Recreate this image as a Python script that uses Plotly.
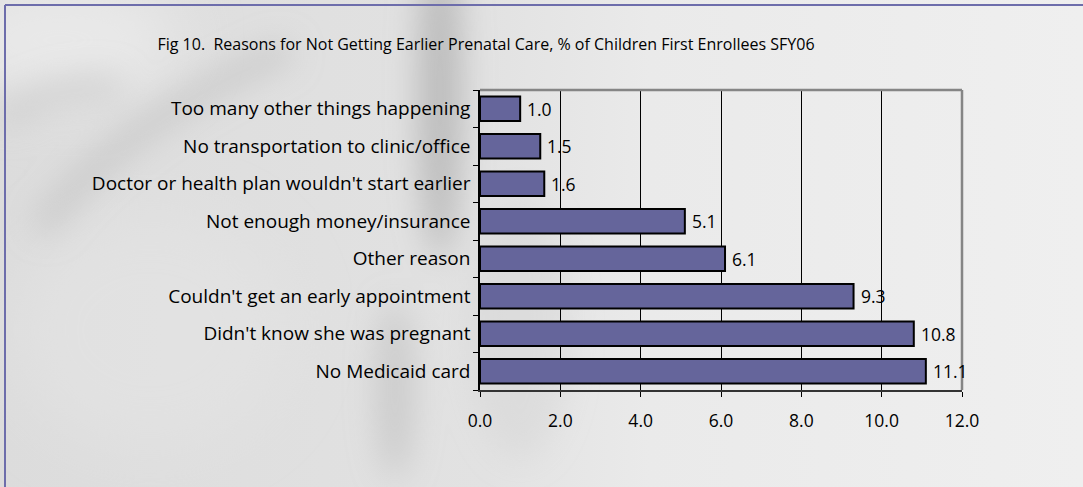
import base64
import plotly.graph_objects as go

# Survey results, listed from the bottom bar to the top bar
reasons = [
    "No Medicaid card",
    "Didn't know she was pregnant",
    "Couldn't get an early appointment",
    "Other reason",
    "Not enough money/insurance",
    "Doctor or health plan wouldn't start earlier",
    "No transportation to clinic/office",
    "Too many other things happening",
]
percents = [11.1, 10.8, 9.3, 6.1, 5.1, 1.6, 1.5, 1.0]
x_ticks = [0, 2, 4, 6, 8, 10, 12]

W, H = 1083, 487
FONT = "Open Sans"
BAR_FILL = "#65659b"
FRAME = "#6d6dab"

# Plot-area placement in pixels
px_l, px_r, px_t, px_b = 480, 962, 90, 390
xdom = [px_l / W, px_r / W]
ydom = [1 - px_b / H, 1 - px_t / H]

# Soft grey photographic backdrop, built as a blurred SVG
svg = f"""<svg xmlns='http://www.w3.org/2000/svg' width='{W}' height='{H}' viewBox='0 0 {W} {H}' preserveAspectRatio='none'>
<defs>
<linearGradient id='g' x1='0' x2='1' y1='0' y2='0'>
<stop offset='0' stop-color='#dcdcdc'/><stop offset='0.45' stop-color='#e2e2e2'/>
<stop offset='0.6' stop-color='#eaeaea'/><stop offset='1' stop-color='#efefef'/>
</linearGradient>
<filter id='b' x='-50%' y='-50%' width='200%' height='200%'><feGaussianBlur stdDeviation='16'/></filter>
<filter id='b2' x='-50%' y='-50%' width='200%' height='200%'><feGaussianBlur stdDeviation='30'/></filter>
</defs>
<rect width='{W}' height='{H}' fill='url(#g)'/>
<g filter='url(#b2)'>
<ellipse cx='60' cy='40' rx='120' ry='60' fill='#ececec' opacity='0.8'/>
<ellipse cx='150' cy='330' rx='140' ry='120' fill='#e4e4e4' opacity='0.6'/>
</g>
<g filter='url(#b)'>
<ellipse cx='440' cy='90' rx='22' ry='170' fill='#9c9c9c' opacity='0.55'/>
<ellipse cx='395' cy='390' rx='18' ry='90' fill='#b0b0b0' opacity='0.45'/>
<path d='M 40 230 Q 120 120 290 50' stroke='#b4b4b4' stroke-width='22' fill='none' opacity='0.5'/>
<path d='M 0 120 Q 60 80 120 90' stroke='#c2c2c2' stroke-width='26' fill='none' opacity='0.5'/>
<ellipse cx='520' cy='330' rx='50' ry='130' fill='#cfcfcf' opacity='0.35'/>
</g>
</svg>"""
bg_uri = "data:image/svg+xml;base64," + base64.b64encode(svg.encode()).decode()

fig = go.Figure()

fig.add_trace(go.Bar(
    y=reasons,
    x=percents,
    orientation="h",
    width=0.65,
    marker=dict(color=BAR_FILL, line=dict(color="#000000", width=2)),
    hoverinfo="skip",
    showlegend=False,
))

# Value labels sitting just past each bar end
annotations = [
    dict(
        x=v, y=r, xref="x", yref="y",
        text=f"{v:.1f}", showarrow=False,
        xanchor="left", xshift=5,
        font=dict(family=FONT, size=17.5, color="#000000", weight=500),
    )
    for r, v in zip(reasons, percents)
]

fig.update_layout(
    width=W, height=H,
    autosize=False,
    margin=dict(l=0, r=0, t=0, b=0, autoexpand=False),
    paper_bgcolor="#e6e6e6",
    plot_bgcolor="rgba(0,0,0,0)",
    font=dict(family=FONT, size=19, color="#000000"),
    title=dict(
        text="Fig 10.  Reasons for Not Getting Earlier Prenatal Care, % of Children First Enrollees SFY06",
        x=486 / W, xanchor="center", xref="paper",
        y=1 - 44 / H, yanchor="middle", yref="paper",
        font=dict(family=FONT, size=16, color="#000000", weight=500),
    ),
    xaxis=dict(
        domain=xdom,
        range=[0, 12],
        tickvals=x_ticks,
        ticktext=[f"{t:.1f}" for t in x_ticks],
        showgrid=True, gridcolor="#000000", gridwidth=1,
        zeroline=False,
        showline=True, linecolor="#333333", linewidth=1.5,
        ticks="outside", ticklen=5, tickcolor="#000000", tickwidth=1,
        ticklabelstandoff=9,
        tickfont=dict(family=FONT, size=17.5, color="#000000", weight=500),
        automargin=False,
        fixedrange=True,
    ),
    yaxis=dict(
        domain=ydom,
        categoryorder="array", categoryarray=reasons,
        showgrid=False, zeroline=False,
        showline=True, linecolor="#000000", linewidth=1.5,
        ticks="outside", ticklen=5, tickcolor="#000000", tickwidth=1,
        tickson="boundaries",
        tickfont=dict(family=FONT, size=19, color="#000000", weight=500),
        ticklabelstandoff=4,
        automargin=False,
        fixedrange=True,
    ),
    annotations=annotations,
    images=[dict(
        source=bg_uri, xref="paper", yref="paper",
        x=0, y=1, sizex=1, sizey=1, xanchor="left", yanchor="top",
        sizing="stretch", layer="below",
    )],
    shapes=[
        # grey plot-area border on top and right
        dict(type="line", xref="paper", yref="paper",
             x0=xdom[0], x1=xdom[1], y0=ydom[1], y1=ydom[1],
             line=dict(color="#858585", width=2.5)),
        dict(type="line", xref="paper", yref="paper",
             x0=xdom[1], x1=xdom[1], y0=ydom[0], y1=ydom[1],
             line=dict(color="#858585", width=2.5)),
        # purple page frame along top and left edges
        dict(type="line", xref="paper", yref="paper",
             x0=5 / W, x1=1, y0=1 - 5 / H, y1=1 - 5 / H,
             line=dict(color=FRAME, width=2)),
        dict(type="line", xref="paper", yref="paper",
             x0=5 / W, x1=5 / W, y0=0, y1=1 - 5 / H,
             line=dict(color=FRAME, width=2)),
    ],
)

# keep the page exactly the size of the figure, without scrollbars
page_fit = (
    "document.documentElement.style.overflow='hidden';"
    "document.body.style.overflow='hidden';"
    "document.body.style.margin='0';"
)

fig.write_html("out.html", config={"responsive": False}, post_script=page_fit)
